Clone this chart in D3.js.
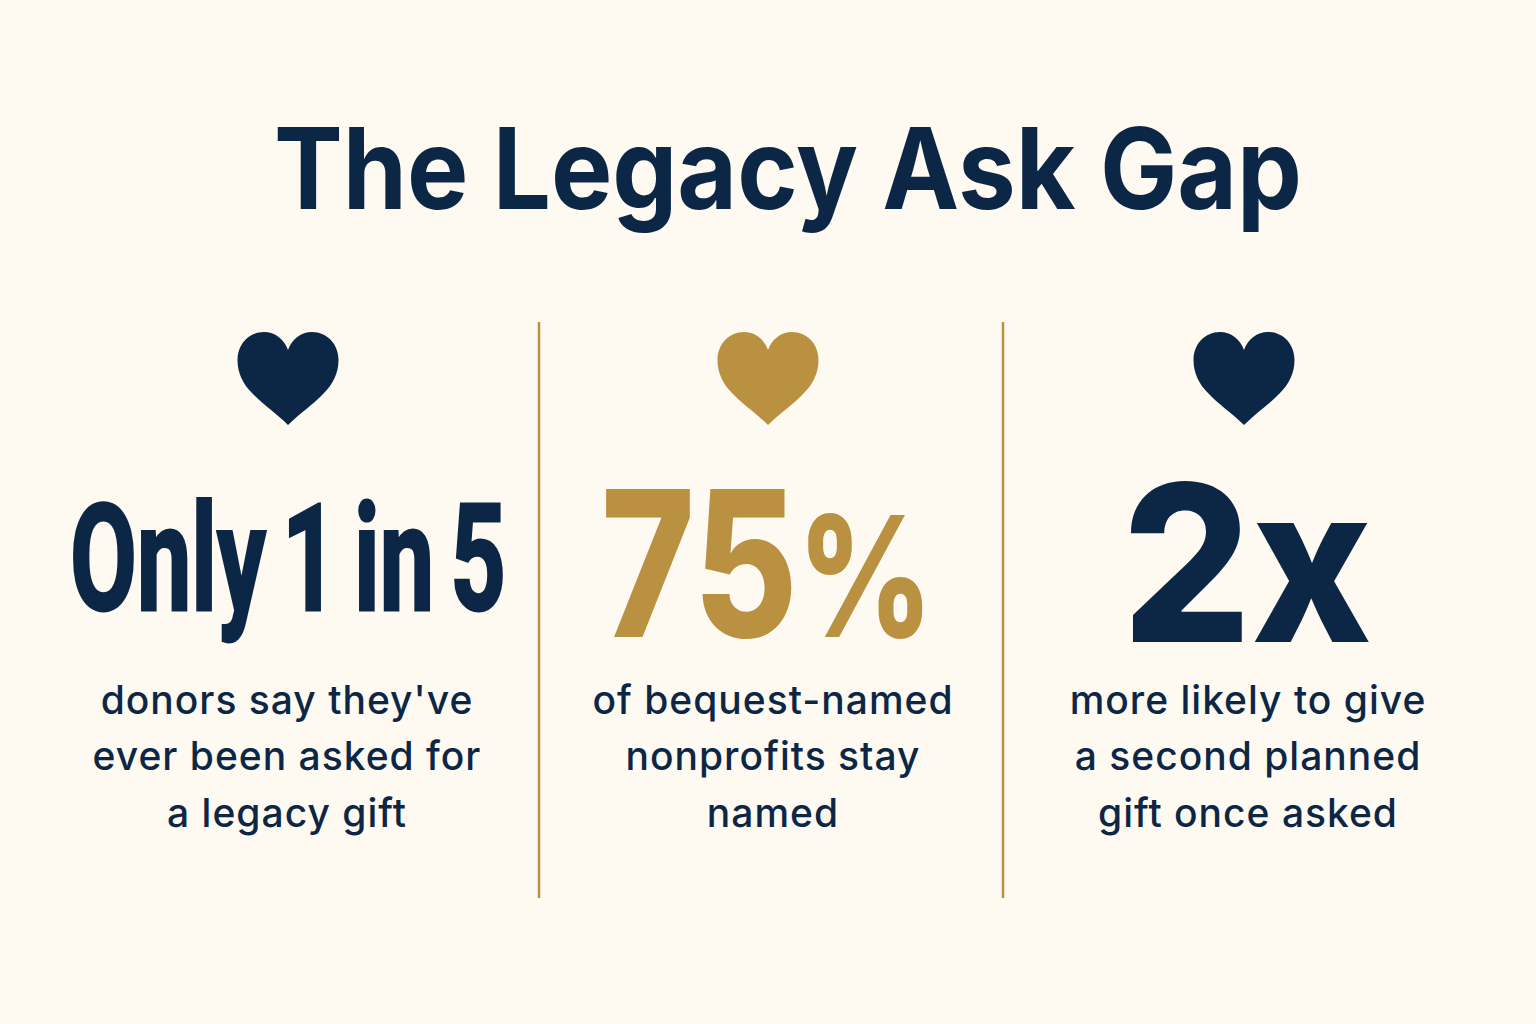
<!DOCTYPE html>
<html><head><meta charset="utf-8">
<script src="https://cdn.jsdelivr.net/npm/d3@7"></script>
<style>html,body{margin:0;padding:0;background:#fef9f1}svg{display:block}</style>
</head><body><svg id="c" width="1536" height="1024"></svg>
<script>
const title = "The Legacy Ask Gap";
const stats = ["Only 1 in 5", "75", "2x"];
const statSuffix = ["", "%", ""];
const captions = [
  ["donors say they've","ever been asked for","a legacy gift"],
  ["of bequest-named","nonprofits stay","named"],
  ["more likely to give","a second planned","gift once asked"]
];
const navy="#0c2746", gold="#ba9140";
const statColors = [navy,gold,navy];
const heartX = [288,768,1244];
const statX = [288,767,1247];
const statWidth = [436,332,250];
const statSize = [148,204,218];
const suffixSize = 168;
const statBase = [610,637,642];
const statStroke = [3,0,0];
const statWordSpacing = [-12,0,0];
const statFont = ["'Liberation Sans Narrow','Roboto',sans-serif","Inter,sans-serif","Inter,sans-serif"];
const captionX = [287,773,1248];
const captionBase = [714,770,827];
const dividerX = [539,1003];
const svg = d3.select("#c");
svg.append("rect").attr("width",1536).attr("height",1024).attr("fill","#fef9f1");
svg.append("text").attr("x",788).attr("y",209).attr("text-anchor","middle")
  .attr("font-family","Inter,sans-serif").attr("font-weight",750).attr("font-size",113)
  .attr("textLength",1028).attr("lengthAdjust","spacingAndGlyphs").attr("fill",navy).text(title);
svg.selectAll("line.d").data(dividerX).join("line").attr("class","d")
  .attr("x1",d=>d).attr("x2",d=>d).attr("y1",322).attr("y2",898).attr("stroke",gold).attr("stroke-width",2.5);
const heart = "M0,46 C-12,34 -26,25 -36,14 C-45,5 -50.5,-6 -50.5,-19 C-50.5,-35 -39,-47 -24,-47 C-13,-47 -4,-40 0,-29 C4,-40 13,-47 24,-47 C39,-47 50.5,-35 50.5,-19 C50.5,-6 45,5 36,14 C26,25 12,34 0,46 Z";
svg.selectAll("path.h").data(heartX).join("path").attr("class","h").attr("d",heart)
  .attr("transform",d=>`translate(${d},379)`).attr("fill",(d,i)=>statColors[i]);
svg.selectAll("text.s").data(stats).join("text").attr("class","s")
  .attr("x",(d,i)=>statX[i]).attr("y",(d,i)=>statBase[i]).attr("text-anchor","middle")
  .attr("font-family",(d,i)=>statFont[i]).attr("font-weight",(d,i)=>i?800:700).attr("font-size",(d,i)=>statSize[i])
  .attr("word-spacing",(d,i)=>statWordSpacing[i])
  .attr("textLength",(d,i)=>statWidth[i]).attr("lengthAdjust","spacingAndGlyphs")
  .attr("stroke",(d,i)=>statStroke[i]?statColors[i]:"none").attr("stroke-width",(d,i)=>statStroke[i])
  .attr("fill",(d,i)=>statColors[i])
  .each(function(d,i){
    const t=d3.select(this);
    t.append("tspan").text(d);
    if(statSuffix[i]) t.append("tspan").attr("font-size",suffixSize).text(statSuffix[i]);
  });
captions.forEach((lines,i)=>{
  svg.selectAll("text.c"+i).data(lines).join("text").attr("class","c"+i)
    .attr("x",captionX[i]).attr("y",(d,j)=>captionBase[j]).attr("text-anchor","middle")
    .attr("font-family","Inter,sans-serif").attr("font-weight",500).attr("font-size",39)
    .attr("letter-spacing",1).attr("fill",navy).text(d=>d);
});
</script></body></html>
